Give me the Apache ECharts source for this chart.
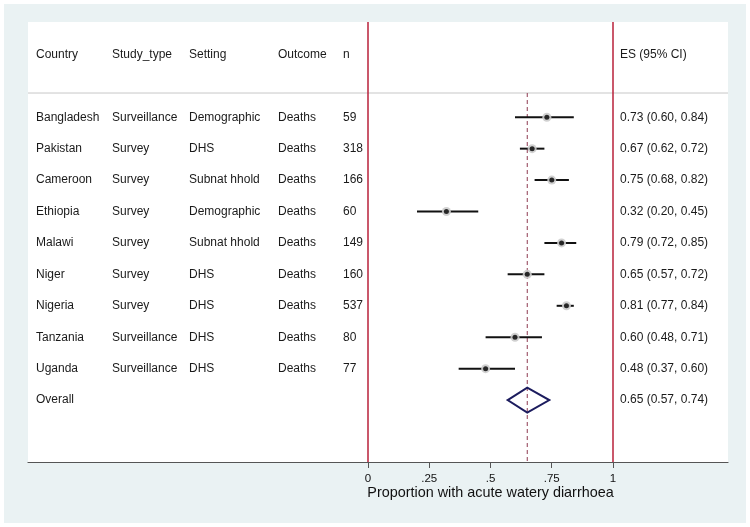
<!DOCTYPE html>
<html>
<head>
<meta charset="utf-8">
<script src="https://cdn.jsdelivr.net/npm/echarts@6/dist/echarts.min.js"></script>
<style>
html,body{margin:0;padding:0;background:#fff;}
#wrap{position:relative;width:750px;height:527px;background:#fff;}
#chart{position:absolute;left:4px;top:4px;width:742px;height:519px;}
</style>
</head>
<body>
<div id="wrap"><div id="chart"></div></div>
<script>
// ---- data ----
const headers = ['Country', 'Study_type', 'Setting', 'Outcome', 'n', 'ES (95% CI)'];
const countries = ['Bangladesh', 'Pakistan', 'Cameroon', 'Ethiopia', 'Malawi', 'Niger', 'Nigeria', 'Tanzania', 'Uganda'];
const studyTypes = ['Surveillance', 'Survey', 'Survey', 'Survey', 'Survey', 'Survey', 'Survey', 'Surveillance', 'Surveillance'];
const settings = ['Demographic', 'DHS', 'Subnat hhold', 'Demographic', 'Subnat hhold', 'DHS', 'DHS', 'DHS', 'DHS'];
const outcomes = ['Deaths', 'Deaths', 'Deaths', 'Deaths', 'Deaths', 'Deaths', 'Deaths', 'Deaths', 'Deaths'];
const nValues = [59, 318, 166, 60, 149, 160, 537, 80, 77];
const esValues = [0.73, 0.67, 0.75, 0.32, 0.79, 0.65, 0.81, 0.60, 0.48];
const ciLow = [0.60, 0.62, 0.68, 0.20, 0.72, 0.57, 0.77, 0.48, 0.37];
const ciHigh = [0.84, 0.72, 0.82, 0.45, 0.85, 0.72, 0.84, 0.71, 0.60];
const overallLabel = 'Overall';
const overallES = 0.65;
const overallLow = 0.57;
const overallHigh = 0.74;
const tickValues = [0, 0.25, 0.5, 0.75, 1];
const tickLabels = ['0', '.25', '.5', '.75', '1'];
const axisTitle = 'Proportion with acute watery diarrhoea';

// ---- layout constants ----
const FONT = 'Arial, "Liberation Sans", sans-serif';
const colX = [32, 108, 185, 274, 339, 616];
const HEADER_ROW = -2;
const HEADER_LINE = -0.77;
const OVERALL_ROW = countries.length;
const Y_MIN = -3.03, Y_MAX = 10.97;
const X_MIN = (24 - 364) / 245, X_MAX = 1 + (724 - 609) / 245;

function fmt(v) { return v.toFixed(2); }

const rows = countries.map((c, i) => i);

const chart = echarts.init(document.getElementById('chart'), null, { renderer: 'canvas' });

const option = {
  backgroundColor: '#EAF2F3',
  animation: false,
  grid: {
    left: 24, right: 18, top: 18, bottom: 61,
    show: true, backgroundColor: '#ffffff', borderWidth: 0
  },
  xAxis: {
    type: 'value', min: X_MIN, max: X_MAX, position: 'bottom',
    axisLine: { show: true, onZero: false, lineStyle: { color: '#555', width: 1.2 } },
    axisTick: { show: true, customValues: tickValues, length: 6, lineStyle: { color: '#555' } },
    axisLabel: {
      show: true, customValues: tickValues, margin: 11,
      fontFamily: FONT, fontSize: 11.5, color: '#111',
      formatter: (v) => { const k = tickValues.findIndex(t => Math.abs(t - v) < 1e-9); return k >= 0 ? tickLabels[k] : ''; }
    },
    splitLine: { show: false }
  },
  yAxis: {
    type: 'value', inverse: true, min: Y_MIN, max: Y_MAX,
    show: false, splitLine: { show: false }
  },
  series: [
    // red reference lines at 0 and 1
    {
      type: 'line', data: [], silent: true,
      markLine: {
        symbol: ['none', 'none'], silent: true, label: { show: false },
        lineStyle: { color: '#B8203A', width: 1.5, type: 'solid' },
        data: [{ xAxis: tickValues[0] }, { xAxis: tickValues[tickValues.length - 1] }]
      }
    },
    // header line + dashed overall line + table text + axis title
    {
      type: 'custom', silent: true, z: 3,
      data: [[0]],
      renderItem: function (params, api) {
        const children = [];
        const pL = api.coord([X_MIN, HEADER_LINE]);
        const pR = api.coord([X_MAX, HEADER_LINE]);
        children.push({ type: 'line', shape: { x1: pL[0], y1: pL[1], x2: pR[0], y2: pR[1] },
          style: { stroke: '#C8C8C8', lineWidth: 1 } });
        const d1 = api.coord([overallES, HEADER_LINE]);
        const d2 = api.coord([overallES, Y_MAX]);
        children.push({ type: 'line', shape: { x1: d1[0], y1: d1[1], x2: d2[0], y2: d2[1] },
          style: { stroke: '#8E3A50', lineWidth: 1, lineDash: [4, 3] } });
        const txt = (x, row, s) => {
          const p = api.coord([0, row]);
          children.push({ type: 'text', x: x, y: p[1],
            style: { text: String(s), fill: '#1a1a1a', font: '12px ' + FONT, textAlign: 'left', textVerticalAlign: 'middle' } });
        };
        headers.forEach((h, k) => txt(colX[k], HEADER_ROW, h));
        rows.forEach(i => {
          txt(colX[0], i, countries[i]);
          txt(colX[1], i, studyTypes[i]);
          txt(colX[2], i, settings[i]);
          txt(colX[3], i, outcomes[i]);
          txt(colX[4], i, nValues[i]);
          txt(colX[5], i, fmt(esValues[i]) + ' (' + fmt(ciLow[i]) + ', ' + fmt(ciHigh[i]) + ')');
        });
        txt(colX[0], OVERALL_ROW, overallLabel);
        txt(colX[5], OVERALL_ROW, fmt(overallES) + ' (' + fmt(overallLow) + ', ' + fmt(overallHigh) + ')');
        const c = api.coord([(tickValues[0] + tickValues[tickValues.length - 1]) / 2, Y_MAX]);
        children.push({ type: 'text', x: c[0], y: c[1] + 31,
          style: { text: axisTitle, fill: '#111', font: '14.4px ' + FONT, textAlign: 'center', textVerticalAlign: 'middle' } });
        return { type: 'group', children: children };
      }
    },
    // whiskers
    {
      type: 'custom', silent: true, z: 4,
      data: rows.map(i => [ciLow[i], ciHigh[i], i]),
      renderItem: function (params, api) {
        const a = api.coord([api.value(0), api.value(2)]);
        const b = api.coord([api.value(1), api.value(2)]);
        return { type: 'line', shape: { x1: a[0], y1: a[1], x2: b[0], y2: b[1] },
          style: { stroke: '#111', lineWidth: 2 } };
      }
    },
    // weight halo
    {
      type: 'scatter', silent: true, z: 5,
      data: rows.map(i => [esValues[i], i]),
      symbol: 'circle', symbolSize: 9,
      itemStyle: { color: '#CCCCCC', opacity: 0.9 }
    },
    // point estimate
    {
      type: 'scatter', silent: true, z: 6,
      data: rows.map(i => [esValues[i], i]),
      symbol: 'circle', symbolSize: 5,
      itemStyle: { color: '#000' }
    },
    // overall diamond
    {
      type: 'custom', silent: true, z: 6,
      data: [[overallLow, overallES, overallHigh, OVERALL_ROW]],
      renderItem: function (params, api) {
        const row = api.value(3);
        const l = api.coord([api.value(0), row]);
        const m = api.coord([api.value(1), row]);
        const r = api.coord([api.value(2), row]);
        const h = 12.5;
        return { type: 'polygon',
          shape: { points: [[l[0], l[1]], [m[0], m[1] - h], [r[0], r[1]], [m[0], m[1] + h]] },
          style: { fill: 'rgba(0,0,0,0)', stroke: '#1C1C5E', lineWidth: 2 } };
      }
    }
  ]
};
chart.setOption(option);
</script>
</body>
</html>
